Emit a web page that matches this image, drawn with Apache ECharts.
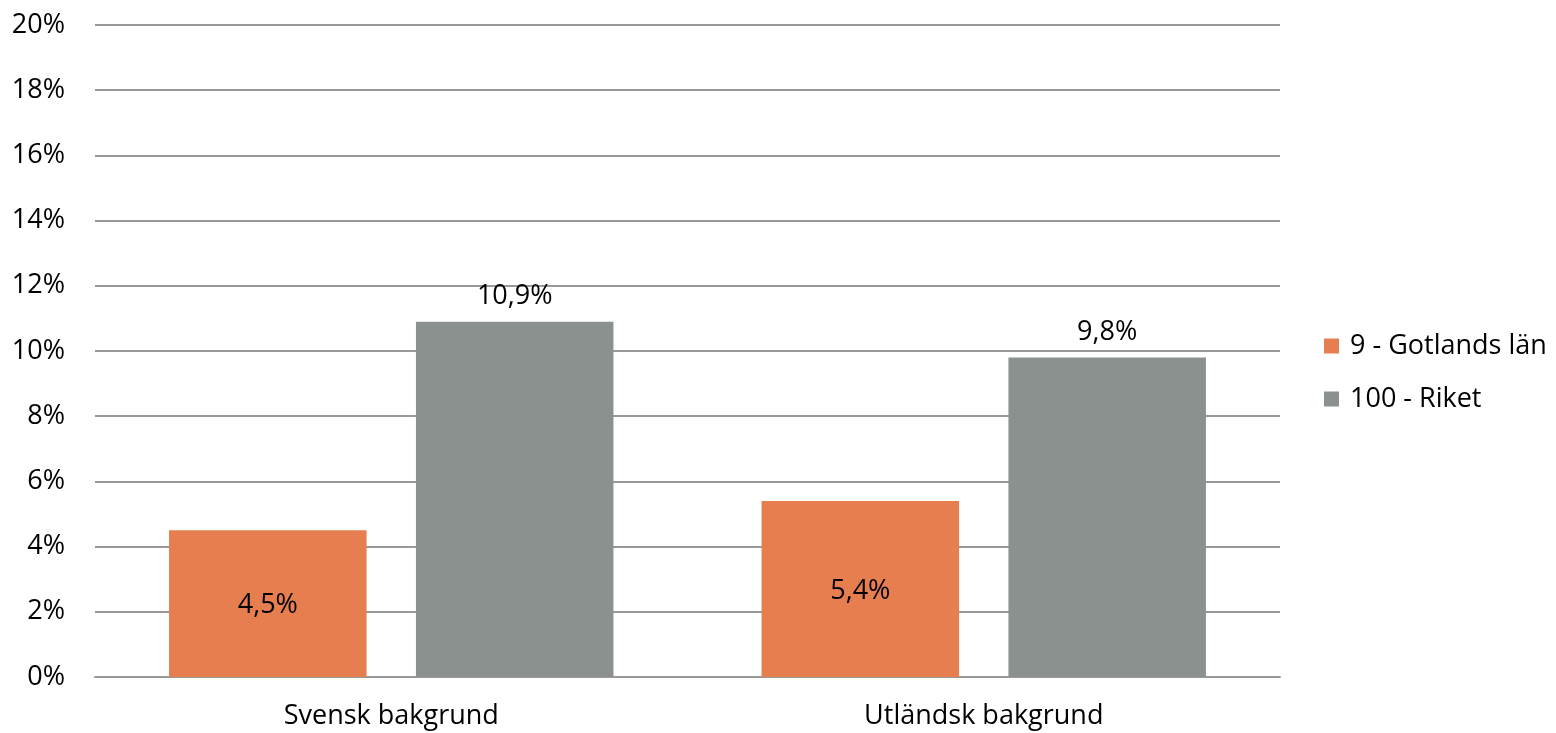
<!DOCTYPE html>
<html>
<head>
<meta charset="utf-8">
<script src="https://cdn.jsdelivr.net/npm/echarts@6/dist/echarts.min.js"></script>
<style>html,body{margin:0;padding:0;background:#fff}#c{width:1556px;height:733px}</style>
</head>
<body>
<div id="c"></div>
<script>
const categories = ['Svensk bakgrund', 'Utländsk bakgrund'];
const seriesNames = ['9 - Gotlands län', '100 - Riket'];
const gotland = [4.5, 5.4];
const riket = [10.9, 9.8];
const yTicks = [0, 2, 4, 6, 8, 10, 12, 14, 16, 18, 20];

const FONT = 'Open Sans';
const FS = 27;
const fmt = v => v.toFixed(1).replace('.', ',') + '%';
const chart = echarts.init(document.getElementById('c'), null, {renderer: 'canvas'});
chart.setOption({
  animation: false,
  textStyle: {fontFamily: FONT},
  grid: {left: 95, right: 276, top: 25, bottom: 56, containLabel: false},
  legend: {
    orient: 'vertical', left: 1324, top: 331, itemWidth: 15, itemHeight: 15, itemGap: 23,
    icon: 'rect', padding: 0,
    textStyle: {fontFamily: FONT, fontSize: FS, lineHeight: 30, color: '#000', padding: [0, 0, 0, 6]},
    data: seriesNames
  },
  xAxis: {
    type: 'category', data: categories,
    axisLine: {show: true, lineStyle: {color: '#999', width: 2}},
    axisTick: {show: false},
    axisLabel: {fontFamily: FONT, fontSize: FS, color: '#000', margin: 26}
  },
  yAxis: {
    type: 'value', min: yTicks[0], max: yTicks[yTicks.length - 1], interval: 2,
    axisLine: {show: false}, axisTick: {show: false},
    splitLine: {lineStyle: {color: '#999', width: 2}},
    axisLabel: {fontFamily: FONT, fontSize: FS, color: '#000', margin: 30, formatter: v => v + '%'}
  },
  series: [
    {
      name: seriesNames[0], type: 'bar', data: gotland,
      barGap: '25%', barCategoryGap: '25%',
      itemStyle: {color: '#E67E50'},
      label: {show: true, position: 'inside', offset: [0, 2], fontFamily: FONT, fontSize: FS, color: '#000', formatter: p => fmt(p.value)}
    },
    {
      name: seriesNames[1], type: 'bar', data: riket,
      itemStyle: {color: '#8B918E'},
      label: {show: true, position: 'top', distance: 12, fontFamily: FONT, fontSize: FS, color: '#000', formatter: p => fmt(p.value)}
    }
  ]
});
</script>
</body>
</html>
